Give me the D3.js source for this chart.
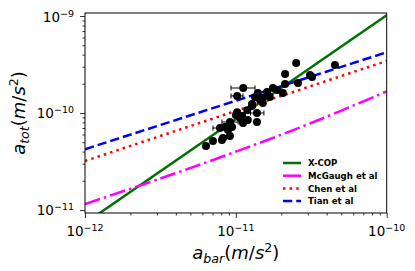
<!DOCTYPE html>
<html>
<head>
<meta charset="utf-8">
<script src="https://cdn.jsdelivr.net/npm/d3@7"></script>
<style>
  body { margin: 0; background: #fff; }
  text { font-family: "DejaVu Sans", sans-serif; }
</style>
</head>
<body>
<div id="chart"></div>
<script>
// cluster points (m/s^2)
const aBar = [2.51e-11, 2.12e-11, 3.10e-11, 3.20e-11, 2.12e-11, 2.58e-11, 4.54e-11, 1.12e-11, 1.02e-11, 1.40e-11,
  1.61e-11, 1.88e-11, 2.05e-11, 1.49e-11, 1.34e-11, 1.28e-11, 1.51e-11, 1.19e-11, 1.38e-11, 1.02e-11,
  1.00e-11, 1.10e-11, 9.14e-12, 1.115e-11, 1.20e-11, 1.38e-11, 8.47e-12, 7.85e-12, 8.87e-12, 9.14e-12,
  8.22e-12, 8.09e-12, 7.05e-12, 6.34e-12, 1.68e-11, 1.28e-11, 1.445e-11, 1.065e-11, 9.43e-12, 1.63e-11, 1.76e-11];
const aTot = [3.28e-10, 2.52e-10, 2.46e-10, 2.35e-10, 1.99e-10, 2.04e-10, 3.13e-10, 1.81e-10, 1.50e-10, 1.61e-10,
  1.65e-10, 1.73e-10, 1.61e-10, 1.43e-10, 1.46e-10, 1.24e-10, 1.27e-10, 1.07e-10, 1.00e-10, 1.02e-10,
  9.54e-11, 9.31e-11, 8.07e-11, 7.89e-11, 8.47e-11, 8.07e-11, 7.18e-11, 7.00e-11, 6.68e-11, 5.79e-11,
  5.52e-11, 5.27e-11, 5.14e-11, 4.57e-11, 1.46e-10, 1.18e-10, 1.36e-10, 8.88e-11, 7.18e-11, 1.53e-10, 1.81e-10];
// horizontal error bars (only the visible ones)
const errBar = [1.12e-11, 1.02e-11, 1.38e-11, 9.14e-12, 7.85e-12];
const errTot = [1.81e-10, 1.50e-10, 1.00e-10, 8.07e-11, 7.00e-11];
const errLo = [9.29e-12, 9.29e-12, 1.25e-11, 8.09e-12, 7.05e-12];
const errHi = [1.34e-11, 1.115e-11, 1.535e-11, 1.036e-11, 8.74e-12];

// relations
const lineBar = [1e-12, 1e-10];
const xcopTot = [7.3e-12, 1.02e-9];
const chenTot = [3.2e-11, 3.44e-10];
const tianTot = [4.23e-11, 4.23e-10];
const mcgBar = [1e-12, 3.16e-12, 1e-11, 3.16e-11, 1e-10];
const mcgTot = [1.15e-11, 2.11e-11, 3.99e-11, 7.88e-11, 1.67e-10];

const xTicks = [1e-12, 1e-11, 1e-10];
const xTickExp = ["\u221212", "\u221211", "\u221210"];
const yTicks = [1e-11, 1e-10, 1e-9];
const yTickExp = ["\u221211", "\u221210", "\u22129"];

const legendNames = ["X-COP", "McGaugh et al", "Chen et al", "Tian et al"];

// dimensions
let margin = { top: 13, right: 28.3, bottom: 58, left: 85 },
  width = 415 - margin.left - margin.right,
  height = 271 - margin.top - margin.bottom;

let x = d3.scaleLog().domain([1e-12, 1e-10]).range([0, width]);
let y = d3.scaleLog().domain([9.3e-12, 1.075e-9]).range([height, 0]);

let svg = d3.select("#chart").append("svg")
  .attr("width", 415)
  .attr("height", 271)
  .append("g")
  .attr("transform", "translate(" + margin.left + "," + margin.top + ")");

svg.append("clipPath").attr("id", "clip")
  .append("rect").attr("width", width).attr("height", height);

let plot = svg.append("g").attr("clip-path", "url(#clip)");

let line = d3.line().x(d => x(d[0])).y(d => y(d[1]));
let curve = d3.line().x(d => x(d[0])).y(d => y(d[1])).curve(d3.curveCatmullRom);

const styles = [
  { color: "#007000", dash: null },
  { color: "#ff00ff", dash: "16,4,2.5,4" },
  { color: "#ff0000", dash: "2.5,4.1" },
  { color: "#0000ff", dash: "9.25,4" }
];

plot.append("path").datum(lineBar.map((b, i) => [b, xcopTot[i]]))
  .attr("d", line).attr("fill", "none")
  .attr("stroke", styles[0].color).attr("stroke-width", 2.5);
plot.append("path").datum(mcgBar.map((b, i) => [b, mcgTot[i]]))
  .attr("d", curve).attr("fill", "none")
  .attr("stroke", styles[1].color).attr("stroke-width", 2.5)
  .attr("stroke-dasharray", styles[1].dash);
plot.append("path").datum(lineBar.map((b, i) => [b, chenTot[i]]))
  .attr("d", line).attr("fill", "none")
  .attr("stroke", styles[2].color).attr("stroke-width", 2.5)
  .attr("stroke-dasharray", styles[2].dash);
plot.append("path").datum(lineBar.map((b, i) => [b, tianTot[i]]))
  .attr("d", line).attr("fill", "none")
  .attr("stroke", styles[3].color).attr("stroke-width", 2.5)
  .attr("stroke-dasharray", styles[3].dash);

// error bars
errBar.forEach((b, i) => {
  let yy = y(errTot[i]);
  plot.append("line")
    .attr("x1", x(errLo[i])).attr("x2", x(errHi[i]))
    .attr("y1", yy).attr("y2", yy)
    .attr("stroke", "#000").attr("stroke-width", 1);
  [errLo[i], errHi[i]].forEach(v => {
    plot.append("line")
      .attr("x1", x(v)).attr("x2", x(v))
      .attr("y1", yy - 2.5).attr("y2", yy + 2.5)
      .attr("stroke", "#000").attr("stroke-width", 1);
  });
});

// points
plot.selectAll(".pt").data(aBar.map((b, i) => [b, aTot[i]]))
  .enter().append("circle")
  .attr("class", "pt")
  .attr("cx", d => x(d[0]))
  .attr("cy", d => y(d[1]))
  .attr("r", 4)
  .attr("fill", "#000");

// minor tick values
function minors(lo, hi) {
  let out = [];
  for (let e = lo; e < hi; e++)
    for (let m = 2; m <= 9; m++) out.push(m * Math.pow(10, e));
  return out;
}

let xMinor = minors(-12, -10);
let yMinor = minors(-12, -9).filter(v => v >= 9.3e-12 && v <= 1.075e-9);

// X axis
svg.append("g")
  .attr("transform", "translate(0," + height + ")")
  .call(d3.axisBottom(x).tickValues(xTicks).tickSize(5).tickFormat(""));
svg.append("g")
  .attr("transform", "translate(0," + height + ")")
  .call(d3.axisBottom(x).tickValues(xMinor).tickSize(2.5).tickFormat(""));

// Y axis
svg.append("g")
  .call(d3.axisLeft(y).tickValues(yTicks).tickSize(5).tickFormat(""));
svg.append("g")
  .call(d3.axisLeft(y).tickValues(yMinor).tickSize(2.5).tickFormat(""));

svg.selectAll(".domain").remove();
svg.selectAll(".tick line").attr("stroke", "#000").attr("stroke-width", 0.8);

// frame
svg.append("rect")
  .attr("width", width).attr("height", height)
  .attr("fill", "none").attr("stroke", "#000").attr("stroke-width", 1);

// tick labels
xTicks.forEach((v, i) => {
  let t = svg.append("text")
    .attr("x", x(v)).attr("y", height + 22.5)
    .attr("text-anchor", "middle")
    .attr("font-size", "13.5px");
  t.append("tspan").text("10");
  t.append("tspan").attr("font-size", "9.5px").attr("dy", -5).text(xTickExp[i]);
});

yTicks.forEach((v, i) => {
  let t = svg.append("text")
    .attr("x", -11).attr("y", y(v) + 5.5)
    .attr("text-anchor", "end")
    .attr("font-size", "13.5px");
  t.append("tspan").text("10");
  t.append("tspan").attr("font-size", "9.5px").attr("dy", -5).text(yTickExp[i]);
});

// axis labels
function axisLabel(sel, sub) {
  sel.attr("font-size", "18px");
  sel.append("tspan").attr("font-style", "italic").text("a");
  sel.append("tspan").attr("font-style", "italic").attr("font-size", "12.6px").attr("dy", 4).text(sub);
  sel.append("tspan").attr("dy", -4).text("(");
  sel.append("tspan").attr("font-style", "italic").text("m");
  sel.append("tspan").text("/");
  sel.append("tspan").attr("font-style", "italic").text("s");
  sel.append("tspan").attr("font-size", "12.6px").attr("dy", -7).text("2");
  sel.append("tspan").attr("dy", 7).text(")");
}

axisLabel(svg.append("text")
  .attr("x", width / 2).attr("y", height + 46)
  .attr("text-anchor", "middle"), "bar");

axisLabel(svg.append("text")
  .attr("transform", "translate(-60," + (height / 2) + ") rotate(-90)")
  .attr("text-anchor", "middle"), "tot");

// legend
let legend = svg.append("g").attr("transform", "translate(198,150)");
legendNames.forEach((name, i) => {
  let g = legend.append("g").attr("transform", "translate(0," + (i * 12.7) + ")");
  g.append("line")
    .attr("x1", 0).attr("x2", 18)
    .attr("stroke", styles[i].color).attr("stroke-width", 2.5)
    .attr("stroke-dasharray", i === 1 ? null : styles[i].dash);
  g.append("text")
    .attr("x", 25).attr("y", 3.2)
    .attr("font-size", "8.6px")
    .attr("font-weight", "bold")
    .text(name);
});
</script>
</body>
</html>
